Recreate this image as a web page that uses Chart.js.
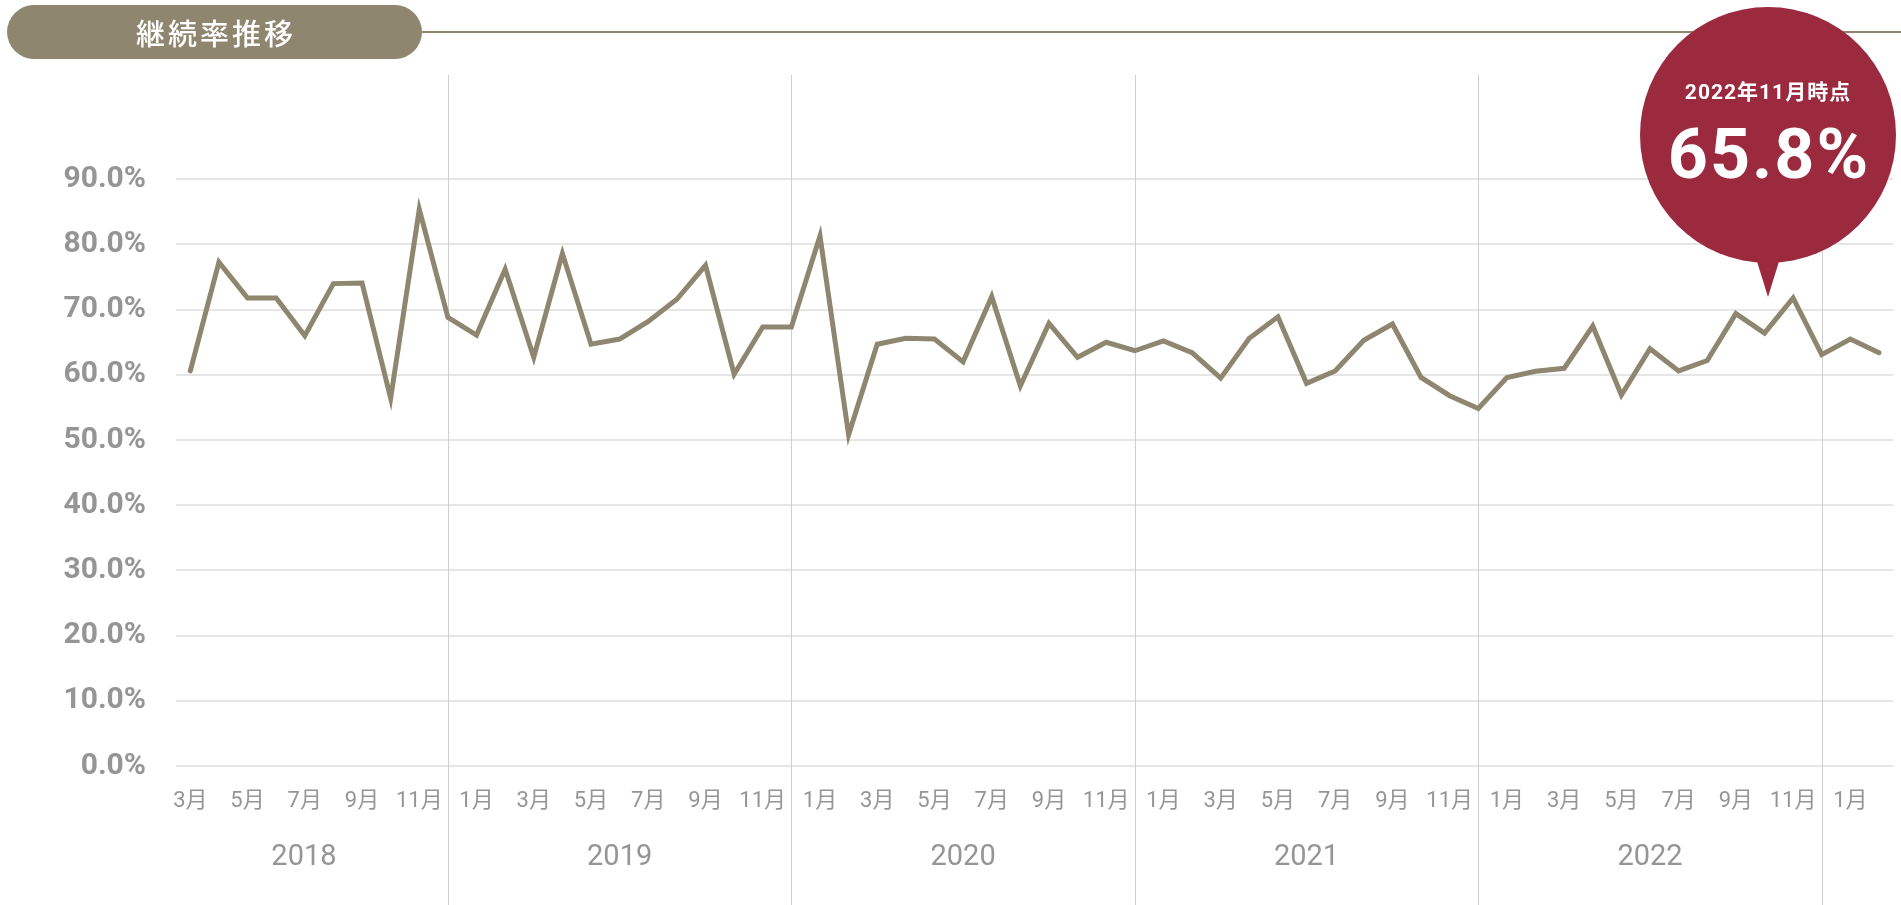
<!DOCTYPE html>
<html lang="ja">
<head>
<meta charset="utf-8">
<title>継続率推移</title>
<script src="https://cdn.jsdelivr.net/npm/chart.js@4/dist/chart.umd.min.js"></script>
<style>
  html, body { margin: 0; padding: 0; background: #ffffff; overflow: hidden; }
  #wrap { position: relative; width: 1901px; height: 905px; }
  #chart { position: absolute; left: 0; top: 0; }
  #titlePill {
    position: absolute; left: 7px; top: 5px; width: 415px; height: 54px;
    border-radius: 27px; background: #8f8670; color: #ffffff;
    font-family: "Noto Sans CJK JP", sans-serif; font-weight: 500; font-size: 29px;
    letter-spacing: 3px; line-height: 54px; text-align: center; text-indent: 3px;
  }
  #titleLine { position: absolute; left: 422px; right: 0; top: 31px; height: 2px; background: #8f8670; }
  #bubble {
    position: absolute; left: 1640px; top: 7px; width: 256px; height: 256px;
    border-radius: 50%; background: #9b2a3f; color: #ffffff; text-align: center;
  }
  #bubble::after {
    content: ""; position: absolute; left: 115px; top: 248px;
    border-left: 13px solid transparent; border-right: 13px solid transparent;
    border-top: 42px solid #9b2a3f;
  }
  #bubbleSub {
    position: absolute; left: 0; right: 0; top: 71px;
    font-family: Roboto, "Noto Sans CJK JP", sans-serif; font-weight: 700; font-size: 21px;
    letter-spacing: 1px; line-height: 28px;
  }
  #bubbleVal {
    position: absolute; left: 0; right: 0; top: 105px;
    font-family: Roboto, sans-serif; font-weight: 700; font-size: 70px;
    letter-spacing: 2px; line-height: 84px; text-indent: 2px;
  }
</style>
</head>
<body>
<div id="wrap">
  <canvas id="chart" width="1901" height="905"></canvas>
  <div id="titlePill">継続率推移</div>
  <div id="titleLine"></div>
  <div id="bubble">
    <div id="bubbleSub">2022年11月時点</div>
    <div id="bubbleVal">65.8%</div>
  </div>
</div>
<script>
// ---- data ----
const months = [
  '3月','4月','5月','6月','7月','8月','9月','10月','11月','12月',
  '1月','2月','3月','4月','5月','6月','7月','8月','9月','10月','11月','12月',
  '1月','2月','3月','4月','5月','6月','7月','8月','9月','10月','11月','12月',
  '1月','2月','3月','4月','5月','6月','7月','8月','9月','10月','11月','12月',
  '1月','2月','3月','4月','5月','6月','7月','8月','9月','10月','11月','12月',
  '1月','2月'
];
const years = ['2018', '2019', '2020', '2021', '2022'];
const retention = [
  60.6, 77.3, 71.8, 71.8, 66.0, 74.0, 74.1, 56.4, 85.4, 68.8,
  66.1, 76.2, 62.7, 78.6, 64.7, 65.5, 68.2, 71.6, 76.8, 60.1, 67.35, 67.35,
  81.3, 50.8, 64.7, 65.6, 65.5, 62.0, 72.0, 58.3, 67.9, 62.7, 65.0, 63.7,
  65.2, 63.4, 59.5, 65.6, 68.9, 58.7, 60.6, 65.3, 67.8, 59.6, 56.8, 54.85,
  59.6, 60.55, 61.0, 67.5, 56.9, 64.0, 60.6, 62.2, 69.4, 66.4, 71.8, 63.1,
  65.5, 63.4
];
const yTickValues = [0, 10, 20, 30, 40, 50, 60, 70, 80, 90];

// ---- styles ----
const LINE_COLOR = '#8f8670';
const GRID_COLOR = '#e6e6e6';
const YEAR_LINE_COLOR = '#cfcfcf';
const TEXT_GRAY = '#959595';

const yearPlugin = {
  id: 'yearDividers',
  beforeDatasetsDraw(chart) {
    const { ctx, scales: { x }, chartArea } = chart;
    ctx.save();
    ctx.strokeStyle = YEAR_LINE_COLOR;
    ctx.lineWidth = 1;
    months.forEach((m, i) => {
      if (m === '12月') {
        const px = Math.round(x.getPixelForValue(i)) + 0.5;
        ctx.beginPath();
        ctx.moveTo(px, chartArea.top);
        ctx.lineTo(px, chart.height);
        ctx.stroke();
      }
    });
    ctx.restore();
  },
  afterDraw(chart) {
    const { ctx, scales: { x }, chartArea } = chart;
    const decIdx = [];
    months.forEach((m, i) => { if (m === '12月') decIdx.push(i); });
    ctx.save();
    ctx.fillStyle = TEXT_GRAY;
    ctx.font = '400 29px Roboto, "Noto Sans CJK JP", sans-serif';
    ctx.textAlign = 'center';
    ctx.textBaseline = 'middle';
    years.forEach((yr, k) => {
      const left = k === 0 ? chartArea.left : x.getPixelForValue(decIdx[k - 1]);
      const right = x.getPixelForValue(decIdx[k]);
      ctx.fillText(yr, (left + right) / 2 - (k === 0 ? 8 : 0), 858);
    });
    ctx.restore();
  }
};

new Chart(document.getElementById('chart'), {
  type: 'line',
  data: {
    labels: months,
    datasets: [{
      data: retention,
      borderColor: LINE_COLOR,
      borderWidth: 5,
      borderJoinStyle: 'miter',
      borderCapStyle: 'round',
      pointRadius: 0,
      pointHoverRadius: 0,
      tension: 0,
      fill: false
    }]
  },
  options: {
    responsive: false,
    devicePixelRatio: 1,
    animation: false,
    events: [],
    layout: { padding: { top: 75, right: 3, bottom: 0, left: 0 } },
    plugins: { legend: { display: false }, tooltip: { enabled: false }, title: { display: false } },
    scales: {
      x: {
        type: 'category',
        offset: true,
        grid: { display: false, drawTicks: false },
        border: { display: false },
        ticks: {
          autoSkip: false,
          maxRotation: 0,
          minRotation: 0,
          padding: 22,
          color: TEXT_GRAY,
          font: { family: 'Roboto, "Noto Sans CJK JP", sans-serif', size: 22, weight: '400' },
          callback: (v, i) => (i % 2 === 0 ? months[i] : '')
        },
        afterFit: (s) => { s.height = 139; }
      },
      y: {
        min: 0,
        max: 106,
        grid: { color: GRID_COLOR, lineWidth: 2, drawTicks: false },
        border: { display: false },
        afterBuildTicks: (s) => { s.ticks = yTickValues.map(v => ({ value: v })); },
        ticks: {
          padding: 30,
          color: TEXT_GRAY,
          font: { family: 'Roboto, sans-serif', size: 30, weight: '700' },
          callback: (v) => Number(v).toFixed(1) + '%'
        },
        afterFit: (s) => { s.width = 176; }
      }
    }
  },
  plugins: [yearPlugin]
});
</script>
</body>
</html>
